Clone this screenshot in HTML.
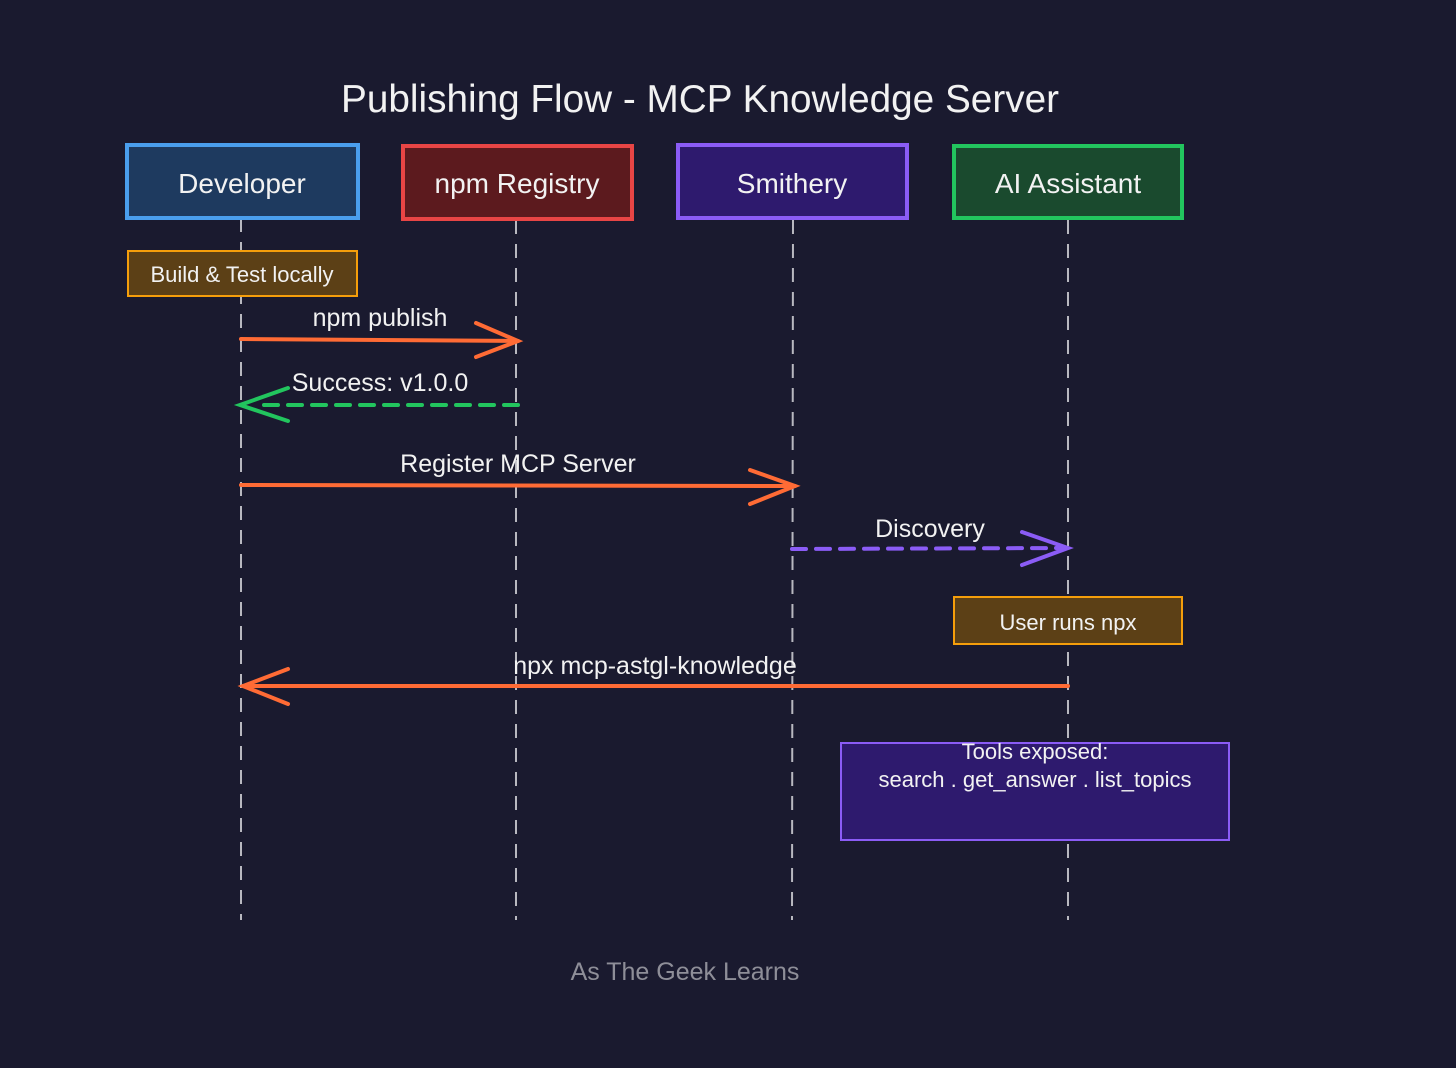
<!DOCTYPE html>
<html><head><meta charset="utf-8"><style>
html,body{margin:0;padding:0;background:#1a1a2f;}
svg{display:block;}
text{font-family:"Liberation Sans",sans-serif;fill:#f2f2f2;}
</style></head><body>
<svg width="1456" height="1068" viewBox="0 0 1456 1068" xmlns="http://www.w3.org/2000/svg">
<rect width="1456" height="1068" fill="#1a1a2f"/>
<text x="700" y="112" font-size="38.5" text-anchor="middle" textLength="718" lengthAdjust="spacingAndGlyphs">Publishing Flow - MCP Knowledge Server</text>

<g stroke="#b8b8c0" stroke-width="2" stroke-dasharray="14,10" fill="none">
<line x1="241" y1="218" x2="241" y2="920"/>
<line x1="516" y1="220" x2="516" y2="920"/>
<line x1="793" y1="220" x2="792" y2="920"/>
<line x1="1068" y1="220" x2="1068" y2="920"/>
</g>

<rect x="127" y="145" width="231" height="73" fill="#1e3a5f" stroke="#4a9eed" stroke-width="4"/>
<text x="242" y="193" font-size="28" text-anchor="middle">Developer</text>
<rect x="403" y="146" width="229" height="73" fill="#5c1a1e" stroke="#e84545" stroke-width="4"/>
<text x="517" y="193" font-size="28" text-anchor="middle">npm Registry</text>
<rect x="678" y="145" width="229" height="73" fill="#2e1a6e" stroke="#8b5cf6" stroke-width="4"/>
<text x="792" y="193" font-size="28" text-anchor="middle">Smithery</text>
<rect x="954" y="146" width="228" height="72" fill="#1a4a2e" stroke="#22c55e" stroke-width="4"/>
<text x="1068" y="193" font-size="28" text-anchor="middle">AI Assistant</text>

<rect x="128" y="251" width="229" height="45" fill="#5c4016" stroke="#f59e0b" stroke-width="2"/>
<text x="242" y="282" font-size="22" text-anchor="middle">Build &amp; Test locally</text>

<text x="380" y="326" font-size="25" text-anchor="middle">npm publish</text>
<g stroke="#ff6b35" stroke-width="4" fill="none" stroke-linecap="round">
<line x1="241" y1="339" x2="518" y2="341"/>
<polyline points="476,323 518,341 476,357"/>
</g>

<text x="380" y="391" font-size="25" text-anchor="middle">Success: v1.0.0</text>
<g stroke="#22c55e" stroke-width="4" fill="none" stroke-linecap="round">
<line x1="518" y1="405" x2="260" y2="405" stroke-dasharray="14,10"/>
<polyline points="288,388 240,405 288,421"/>
</g>

<text x="518" y="472" font-size="25" text-anchor="middle">Register MCP Server</text>
<g stroke="#ff6b35" stroke-width="4" fill="none" stroke-linecap="round">
<line x1="241" y1="485" x2="795" y2="486"/>
<polyline points="750,470 795,486 750,504"/>
</g>

<text x="930" y="537" font-size="25" text-anchor="middle">Discovery</text>
<g stroke="#8b5cf6" stroke-width="4" fill="none" stroke-linecap="round">
<line x1="792" y1="549" x2="1065" y2="548" stroke-dasharray="14,10"/>
<polyline points="1022,532 1068,548 1022,565"/>
</g>

<rect x="954" y="597" width="228" height="47" fill="#5c4016" stroke="#f59e0b" stroke-width="2"/>
<text x="1068" y="630" font-size="22" text-anchor="middle">User runs npx</text>

<text x="655" y="674" font-size="25" text-anchor="middle">npx mcp-astgl-knowledge</text>
<g stroke="#ff6b35" stroke-width="4" fill="none" stroke-linecap="round">
<line x1="1068" y1="686" x2="243" y2="686"/>
<polyline points="288,669 243,686 288,704"/>
</g>

<rect x="841" y="743" width="388" height="97" fill="#2e1a6e" stroke="#8b5cf6" stroke-width="2"/>
<text x="1035" y="759" font-size="22" text-anchor="middle">Tools exposed:</text>
<text x="1035" y="787" font-size="22" text-anchor="middle">search . get_answer . list_topics</text>

<text x="685" y="980" font-size="25" text-anchor="middle" style="fill:#8e8e98">As The Geek Learns</text>
</svg>
</body></html>
